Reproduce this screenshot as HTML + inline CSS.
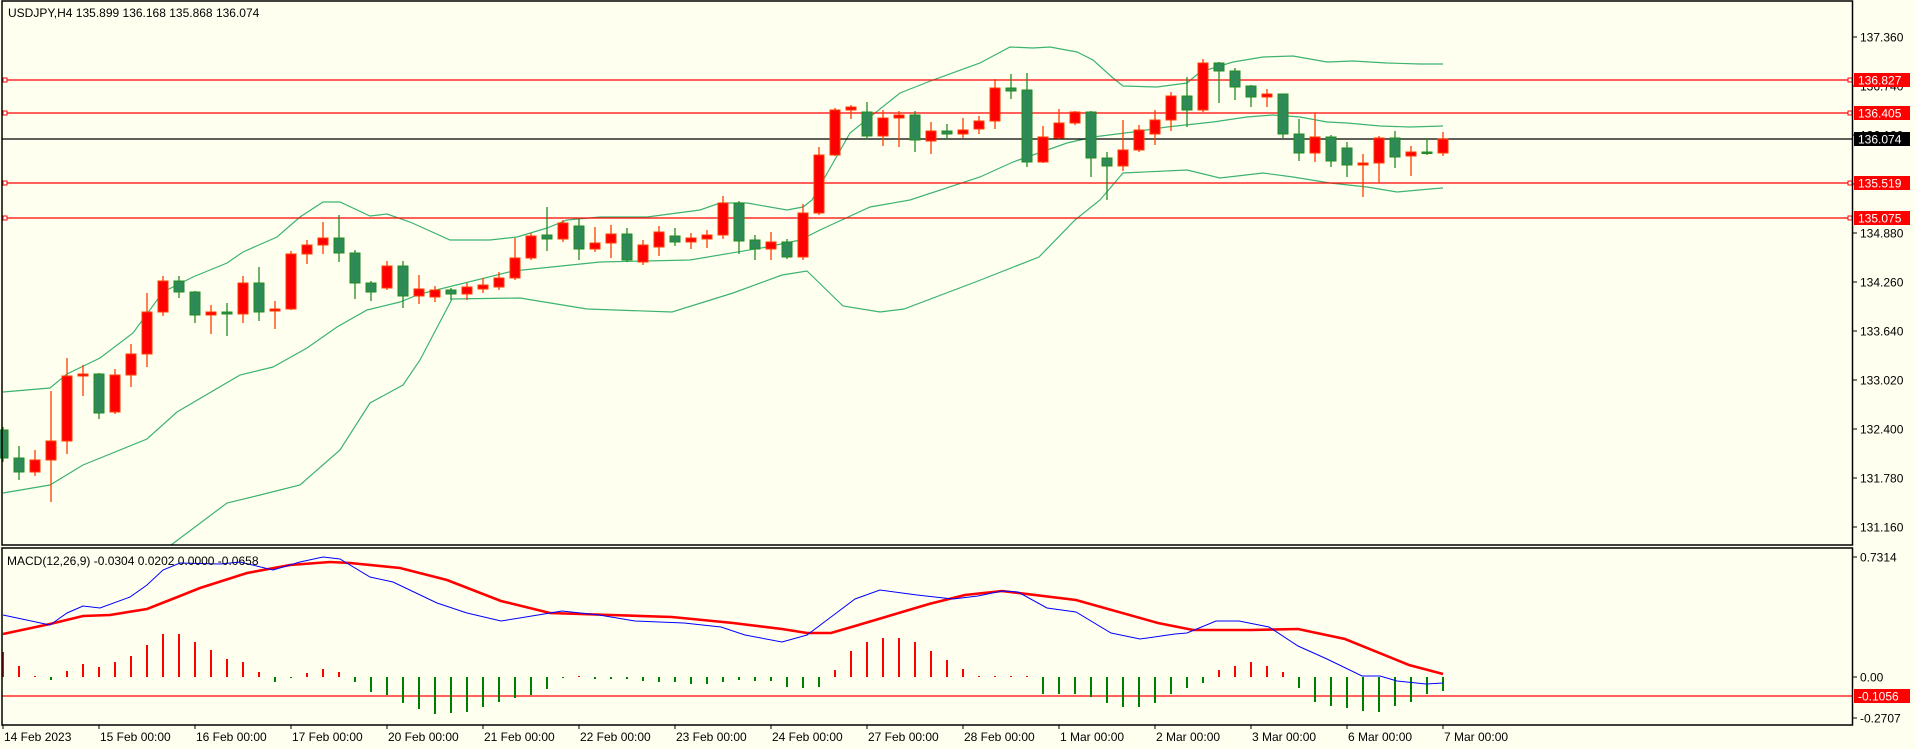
<!DOCTYPE html>
<html><head><meta charset="utf-8"><style>
html,body{margin:0;padding:0;background:#fffff0;}
body{width:1916px;height:749px;overflow:hidden;position:relative;font-family:"Liberation Sans",sans-serif;}
svg{position:absolute;left:0;top:0;}
svg text{font-family:"Liberation Sans",sans-serif;font-size:12px;}
</style></head><body>
<svg id="c" width="1916" height="749" viewBox="0 0 1916 749" xmlns="http://www.w3.org/2000/svg">
<rect x="0" y="0" width="1916" height="749" fill="#fffff0"/>
<g id="bands" fill="none" stroke="#3cb371" stroke-width="1.2"></g>
<g id="hl"></g>
<g id="candles"></g>
<g id="macd"></g>
<!-- borders -->
<rect x="2" y="1" width="1850.5" height="544" fill="none" stroke="#000" stroke-width="1.5"/>
<rect x="2" y="548" width="1850.5" height="177" fill="none" stroke="#000" stroke-width="1.5"/>
<text x="8" y="17" fill="#000">USDJPY,H4  135.899 136.168 135.868 136.074</text>
<text x="7" y="565" fill="#000">MACD(12,26,9) -0.0304 0.0202 0.0000 -0.0658</text>
<g id="axis" fill="#000"></g>
</svg>
<script>
var NS="http://www.w3.org/2000/svg";
function el(p,t,a,txt){var e=document.createElementNS(NS,t);for(var k in a)e.setAttribute(k,a[k]);if(txt!=null)e.textContent=txt;p.appendChild(e);return e;}
var g=function(id){return document.getElementById(id);};
// Bollinger bands
var up=[[3,392],[50,388],[67,374],[100,358],[133,333],[163,292],[193,277],[227,263],[243,252],[277,237],[300,217],[323,202],[340,202],[370,216],[387,214],[410,222],[450,240],[490,240],[517,237],[547,228],[567,220],[600,217],[647,217],[700,210],[720,203],[747,203],[787,210],[803,207],[812,200],[850,133],[900,93],[933,80],[980,63],[1010,47],[1033,48],[1050,47],[1077,52],[1093,60],[1113,78],[1123,86],[1157,87],[1187,83],[1200,72],[1233,62],[1263,57],[1293,56],[1327,62],[1353,61],[1387,63],[1420,64],[1443,64]];
var mid=[[3,493],[50,485],[83,465],[147,439],[177,412],[240,375],[273,367],[307,348],[337,327],[367,310],[400,302],[420,294],[513,271],[600,262],[690,260],[767,247],[800,240],[820,230],[870,207],[910,200],[980,177],[1013,162],[1067,143],[1093,137],[1133,132],[1167,127],[1213,122],[1247,117],[1273,115],[1300,117],[1327,122],[1347,123],[1380,126],[1410,127],[1443,126]];
var lo=[[171,545],[227,503],[260,495],[300,485],[340,450],[370,403],[403,385],[420,360],[452,299],[520,298],[587,309],[672,312],[733,293],[782,275],[807,271],[843,306],[880,312],[904,309],[978,281],[1039,257],[1075,220],[1100,200],[1123,173],[1187,170],[1220,178],[1263,173],[1293,177],[1330,183],[1367,187],[1397,192],[1430,189],[1443,188]];
[up,mid,lo].forEach(function(a){el(g("bands"),"polyline",{points:a.map(function(p){return p.join(",");}).join(" ")});});
// horizontal lines
var hl=g("hl");
[80,113,183,218].forEach(function(y){el(hl,"line",{x1:2,x2:1852,y1:y,y2:y,stroke:"#ff0000","stroke-width":1.3});
 el(hl,"rect",{x:3,y:y-2,width:4,height:4,fill:"#fff",stroke:"#ff0000","stroke-width":1});
 el(hl,"rect",{x:1848,y:y-2,width:4,height:4,fill:"#fff",stroke:"#ff0000","stroke-width":1});});
el(hl,"line",{x1:2,x2:1852,y1:139,y2:139,stroke:"#000","stroke-width":1.2});
el(hl,"line",{x1:2,x2:1852,y1:696,y2:696,stroke:"#ff0000","stroke-width":1.2});
// candles [o,c,h,l]
var C=[[430,458,427,462],[458,472,446,480],[472,460,450,476],[460,441,391,502],[441,376,358,454],[376,374,365,396],[374,413,373,419],[412,375,369,414],[375,354,344,387],[354,312,293,367],
[312,281,276,316],[281,292,276,298],[292,315,291,323],[315,312,305,334],[312,314,303,336],[314,283,276,323],[283,312,267,321],[311,309,301,329],[309,254,251,310],[254,245,240,264],
[245,238,222,254],[238,253,215,262],[253,283,250,299],[283,292,281,301],[288,266,261,290],[266,296,261,308],[296,289,275,304],[297,290,286,302],[290,294,288,300],[294,287,283,300],
[289,285,278,293],[287,278,272,290],[278,258,238,280],[258,236,233,260],[235,239,207,251],[239,223,220,242],[226,249,219,260],[249,243,227,252],[243,234,225,258],[234,260,228,262],
[262,245,240,265],[247,232,226,256],[236,242,228,246],[242,238,233,249],[239,235,230,248],[235,203,196,239],[203,241,201,254],[240,249,235,260],[249,242,232,260],[242,257,239,259],
[257,213,204,260],[213,155,147,215],[155,110,108,156],[110,107,105,119],[112,136,102,140],[136,118,110,146],[118,115,111,147],[115,140,111,152],[141,131,122,154],[131,134,124,140],
[134,130,118,138],[129,121,116,134],[121,88,79,129],[88,91,74,99],[90,162,73,167],[162,137,126,163],[138,123,109,139],[123,112,111,125],[112,158,111,177],[158,166,152,200],
[166,150,120,171],[150,130,125,152],[134,120,110,145],[120,96,92,131],[96,110,77,127],[110,63,59,112],[63,71,62,103],[71,87,68,100],[86,97,85,107],[97,94,89,107],
[94,134,94,138],[134,153,119,161],[153,137,113,162],[137,161,135,167],[148,165,142,177],[165,163,154,197],[163,138,136,183],[138,157,131,168],[156,152,146,176],[152,153,138,155],[153,139,132,156]];
var cg=g("candles");
C.forEach(function(d,k){var x=3+16*k,o=d[0],c=d[1],bull=c<o;
 var st=bull?"#ff3c00":"#228b22",fi=bull?"#ff0000":"#2e8b57";
 el(cg,"line",{x1:x,x2:x,y1:d[2],y2:d[3],stroke:st,"stroke-width":1.3});
 var t=Math.min(o,c),h=Math.max(Math.abs(o-c),1.5);
 el(cg,"rect",{x:x-5,y:t,width:10,height:h,fill:fi,stroke:st,"stroke-width":1});});
// MACD histogram
var H=[652,666,676,680,671,664,667,662,656,645,634,634,642,650,659,662,672,682,677,673,669,672,682,692,695,703,709,714,713,712,707,
702,698,695,689,678,676,679,679,679,681,682,682,684,684,682,680,681,681,687,688,
687,670,651,642,638,638,642,651,660,669,676,676,676,676,694,694,694,697,703,707,707,703,694,688,683,670,666,662,666,672,688,702,706,708,711,712,706,702,694,691,690];
var mg=g("macd");
H.forEach(function(v,k){if(k>90)return;var x=3+16*k;var red=v<677;
 if(Math.abs(v-677)<1)v=red?676:678;
 el(mg,"line",{x1:x,x2:x,y1:677,y2:v,stroke:red?"#ff0000":"#008000","stroke-width":2});});
var blue=[[3,615],[50,625],[67,613],[83,606],[100,608],[130,597],[147,585],[163,570],[180,563],[220,564],[240,562],[273,570],[300,562],[323,557],[340,559],[370,577],[393,582],[437,603],[467,613],[501,621],[538,615],[562,611],[599,615],[635,621],[684,623],[721,627],[745,635],[782,642],[807,635],[831,617],[855,599],[880,590],[917,595],[953,599],[978,596],[1002,591],[1018,592],[1047,608],[1076,612],[1111,633],[1140,639],[1175,634],[1187,633],[1216,621],[1239,621],[1269,627],[1298,646],[1327,659],[1362,676],[1380,676],[1397,681],[1426,684],[1443,683]];
var redl=[[3,634],[50,624],[83,616],[110,615],[147,609],[180,596],[200,588],[247,573],[290,565],[330,562],[350,563],[400,568],[447,580],[501,601],[550,613],[611,615],[672,617],[733,623],[782,629],[807,633],[831,633],[855,626],[892,615],[929,604],[965,595],[1002,591],[1076,600],[1158,623],[1193,630],[1251,630],[1298,629],[1345,639],[1409,665],[1443,674]];
el(mg,"polyline",{points:redl.map(function(p){return p.join(",");}).join(" "),fill:"none",stroke:"#ff0000","stroke-width":2.6});
el(mg,"polyline",{points:blue.map(function(p){return p.join(",");}).join(" "),fill:"none",stroke:"#0000ff","stroke-width":1});
// axis
var ax=g("axis");
[["137.360",37],["136.740",86],["136.120",135],["135.500",184],["134.880",233],["134.260",282],["133.640",331],["133.020",380],["132.400",429],["131.780",478],["131.160",527]].forEach(function(a){
 el(ax,"line",{x1:1852,x2:1857,y1:a[1],y2:a[1],stroke:"#000"});
 el(ax,"text",{x:1860,y:a[1]+4.5},a[0]);});
[["0.7314",557],["0.00",677],["-0.2707",718]].forEach(function(a){
 el(ax,"line",{x1:1852,x2:1857,y1:a[1],y2:a[1],stroke:"#000"});
 el(ax,"text",{x:1860,y:a[1]+4.5},a[0]);});
[["136.827",80,"#ff0000"],["136.405",113,"#ff0000"],["136.074",139,"#000"],["135.519",183,"#ff0000"],["135.075",218,"#ff0000"],["-0.1056",696,"#ff0000"]].forEach(function(a){
 el(ax,"rect",{x:1854,y:a[1]-7,width:56,height:14,fill:a[2]});
 el(ax,"text",{x:1858,y:a[1]+4.5,fill:"#fff"},a[0]);});
var days=["14 Feb 2023","15 Feb 00:00","16 Feb 00:00","17 Feb 00:00","20 Feb 00:00","21 Feb 00:00","22 Feb 00:00","23 Feb 00:00","24 Feb 00:00","27 Feb 00:00","28 Feb 00:00","1 Mar 00:00","2 Mar 00:00","3 Mar 00:00","6 Mar 00:00","7 Mar 00:00"];
days.forEach(function(s,d){var x=3+96*d;
 el(ax,"line",{x1:x,x2:x,y1:725,y2:729,stroke:"#000"});
 el(ax,"text",{x:x+1,y:741},s);});
</script>
</body></html>
